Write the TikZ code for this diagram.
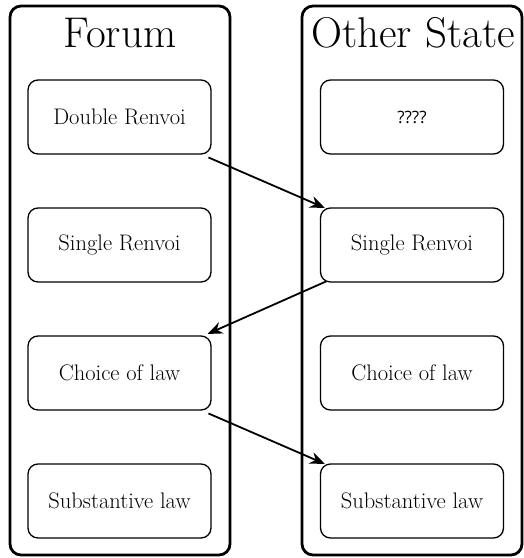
\documentclass[tikz,border=0pt]{standalone}
\usepackage{fontspec}
\newfontfamily\qfont{Open Sans}
\usetikzlibrary{arrows.meta}
\begin{document}
\begin{tikzpicture}[x=1pt,y=-1pt,
  outerbox/.style={draw, line width=2.8pt, rounded corners=11pt, minimum width=220pt, minimum height=549pt, inner sep=0pt},
  innerbox/.style={draw, line width=1.3pt, rounded corners=10pt, minimum width=183pt, minimum height=74pt, inner sep=0pt, font=\fontsize{22.5}{26}\selectfont},
  title/.style={font=\fontsize{43}{50}\selectfont, inner sep=0pt},
  link/.style={line width=1.8pt, -{Stealth[length=15pt,width=12pt]}, shorten <=2pt, shorten >=1pt}]
\useasboundingbox (0,0) rectangle (524,558);
\node[outerbox] (forum) at (120,280.5) {};
\node[outerbox] (other) at (412,280.5) {};
\node[title, anchor=base] (tf) at (120,47) {Forum};
\node[title, anchor=base] (to) at (413,47) {Other State};
\node[innerbox] (f1) at (119.5,117) {Double Renvoi};
\node[innerbox] (f2) at (119.5,245) {Single Renvoi};
\node[innerbox] (f3) at (119.5,373) {Choice of law};
\node[innerbox] (f4) at (119.5,501) {Substantive law};
\node[innerbox, font=\qfont\fontsize{17}{20}\selectfont] (o1) at (412,117) {????};
\node[innerbox] (o2) at (412,245) {Single Renvoi};
\node[innerbox] (o3) at (412,373) {Choice of law};
\node[innerbox] (o4) at (412,501) {Substantive law};
\draw[link] ([xshift=-5pt,yshift=-2pt]f1.south east) -- ([xshift=6pt,yshift=-1pt]o2.north west);
\draw[link] ([xshift=8pt,yshift=2pt]o2.south west) -- ([xshift=-5pt,yshift=1pt]f3.north east);
\draw[link] ([xshift=-5pt,yshift=-2pt]f3.south east) -- ([xshift=6pt,yshift=-1pt]o4.north west);
\end{tikzpicture}
\end{document}
